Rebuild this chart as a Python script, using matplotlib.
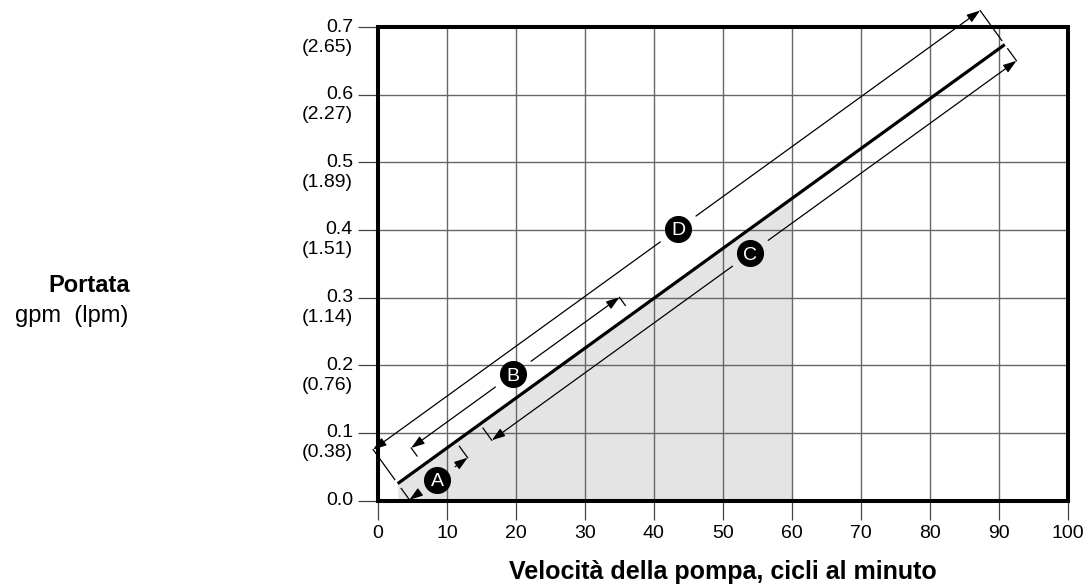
import matplotlib
matplotlib.use("Agg")
import matplotlib.pyplot as plt
import numpy as np

plt.rcParams["font.family"] = ["Liberation Sans", "DejaVu Sans"]

# portata della pompa in funzione della velocità (retta di lavoro)
speed = [2.86, 90.9]          # cicli al minuto
flow = [0.025, 0.674]         # gpm
shade_max = 60                # zona consigliata fino a 60 cicli/min

x_ticks = [0, 10, 20, 30, 40, 50, 60, 70, 80, 90, 100]
gpm_ticks = [0.0, 0.1, 0.2, 0.3, 0.4, 0.5, 0.6, 0.7]
lpm_labels = ["", "(0.38)", "(0.76)", "(1.14)", "(1.51)", "(1.89)", "(2.27)", "(2.65)"]

# quote A-D: inizio, fine e posizione della lettera lungo la retta (cicli/min)
dim_names = ["A", "B", "C", "D"]
dim_start = [2.86, 6.6, 14.8, 2.86]
dim_end = [11.3, 36.8, 90.9, 90.9]
dim_mark = [6.9, 21.4, 52.3, 47.1]

# stile quote: scostamento dalla retta e inizio linea di richiamo (px)
dim_offset = [-20, 21, -20, 42]
dim_inner = [6, 11, 5, 5]
GAP = 22

W, H = 1086, 587
fig = plt.figure(figsize=(W / 100, H / 100), dpi=100)
ax = fig.add_axes([378 / W, 1 - 500.5 / H, 689.5 / W, 473.5 / H])
ax.set_xlim(0, 100)
ax.set_ylim(0, 0.7)

slope = (flow[1] - flow[0]) / (speed[1] - speed[0])


def flow_at(x):
    return flow[0] + (x - speed[0]) * slope


# area ombreggiata sotto la retta
xs = [speed[0], shade_max]
ax.fill_between(xs, [0, 0], [flow_at(v) for v in xs], color="#e4e4e4", lw=0, zorder=0.3)

ax.set_axisbelow(True)
ax.set_xticks(x_ticks)
ax.set_yticks(gpm_ticks)
ax.grid(True, color="#666666", lw=1.0)
ax.tick_params(axis="x", length=13.7, width=0.9, color="#444444", pad=4, labelsize=14)
ax.tick_params(axis="y", length=14.4, width=0.9, color="#444444", labelleft=False)
ax.set_xticklabels([str(v) for v in x_ticks])
for sp in ax.spines.values():
    sp.set_linewidth(2.9)
    sp.set_color("black")

# etichette asse y su due righe: gpm sopra, lpm tra parentesi sotto
for v, lab in zip(gpm_ticks, lpm_labels):
    ax.annotate(f"{v:.1f}", xy=(0, v), xycoords=("axes fraction", "data"),
                xytext=(-18, 0), textcoords="offset points",
                ha="right", va="center", fontsize=14)
    if lab:
        ax.annotate(lab, xy=(0, v), xycoords=("axes fraction", "data"),
                    xytext=(-18, -14.4), textcoords="offset points",
                    ha="right", va="center", fontsize=14)

# retta principale
ax.plot(speed, flow, color="black", lw=2.3, solid_capstyle="butt", zorder=3)

to_px = ax.transData.transform
to_data = ax.transData.inverted().transform
p0, p1 = to_px((speed[0], flow[0])), to_px((speed[1], flow[1]))
u = (p1 - p0) / np.hypot(*(p1 - p0))
n = np.array([-u[1], u[0]])

arrow = dict(arrowstyle="-|>,head_length=0.8,head_width=0.27", color="black",
             lw=0.9, shrinkA=0, shrinkB=0, mutation_scale=10)

for name, s, e, m, off, inner in zip(dim_names, dim_start, dim_end, dim_mark,
                                     dim_offset, dim_inner):
    a = to_px((s, flow_at(s)))
    b = to_px((e, flow_at(e)))
    c = to_px((m, flow_at(m))) + off * n
    sign = np.sign(off)
    ta, tb = a + off * n, b + off * n
    g0, g1 = c - GAP * u, c + GAP * u
    ax.annotate("", xy=to_data(ta), xytext=to_data(g0), arrowprops=arrow,
                annotation_clip=False, zorder=4)
    ax.annotate("", xy=to_data(tb), xytext=to_data(g1), arrowprops=arrow,
                annotation_clip=False, zorder=4)
    # linee di richiamo
    for base, tip in ((a, ta), (b, tb)):
        q0 = to_data(base + sign * inner * n)
        q1 = to_data(tip)
        ax.plot([q0[0], q1[0]], [q0[1], q1[1]], color="black", lw=0.9,
                clip_on=False, zorder=4)
    cd = to_data(c)
    ax.plot(cd[0], cd[1], "o", ms=18.5, mfc="black", mec="black", clip_on=False, zorder=5)
    ax.text(cd[0], cd[1], name, color="white", fontsize=14, ha="center",
            va="center_baseline", zorder=6)

fig.text(130 / W, 1 - 292 / H, "Portata", fontsize=17, fontweight="bold",
         ha="right", va="baseline")
fig.text(128 / W, 1 - 322 / H, "gpm  (lpm)", fontsize=17, ha="right", va="baseline")
fig.text(722.7 / W, 1 - 579 / H, "Velocità della pompa, cicli al minuto",
         fontsize=18, fontweight="bold", ha="center", va="baseline")

fig.savefig("out.png", dpi=100)
